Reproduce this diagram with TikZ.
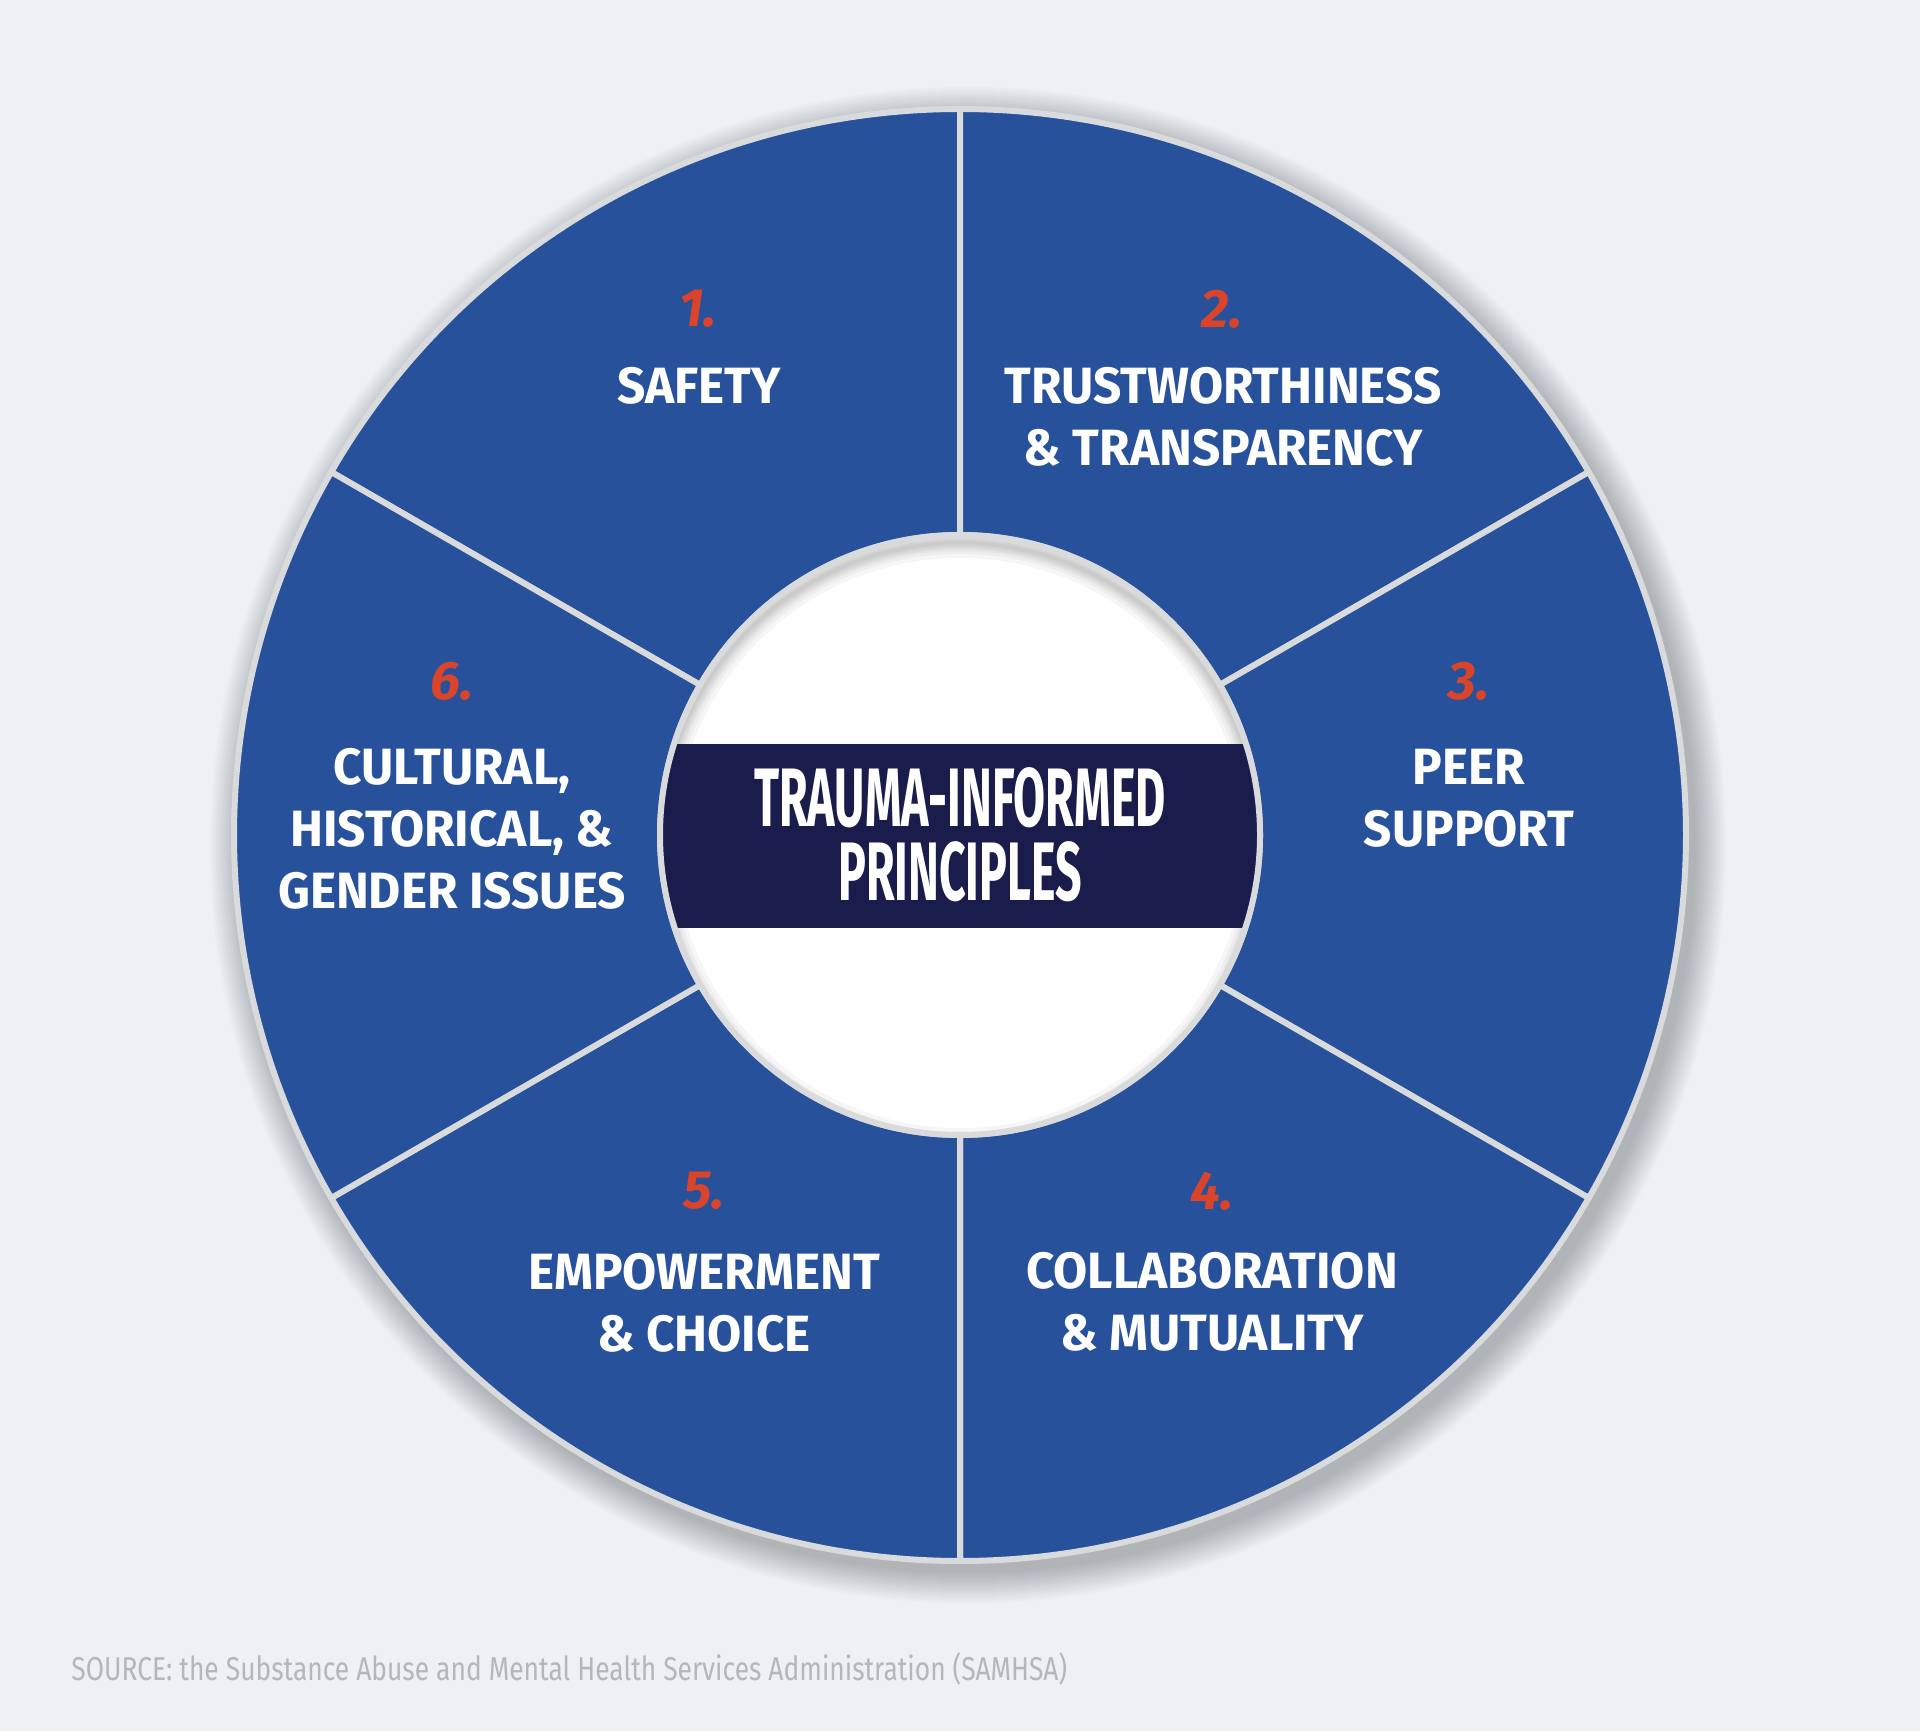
\documentclass[tikz,border=0pt]{standalone}
\usepackage{fontspec}
\setmainfont{Fira Sans}
\newfontfamily\condfont{Fira Sans}[FakeStretch=0.56]
\newfontfamily\labfont{Fira Sans}[FakeStretch=0.97]
\newfontfamily\srcfont{Fira Sans}[FakeStretch=0.80]
\definecolor{bgc}{HTML}{EDF1F5}
\definecolor{segblue}{HTML}{28519C}
\definecolor{bordergray}{HTML}{D9DADC}
\definecolor{navy}{HTML}{1A1C4B}
\definecolor{numred}{HTML}{D9442A}
\definecolor{srcgray}{HTML}{B3B6BB}
\begin{document}
\begin{tikzpicture}[x=0.5pt,y=0.5pt,
  wtext/.style={font=\labfont\bfseries\fontsize{25.5}{31}\selectfont,text=white,align=center,inner sep=0pt},
  numtext/.style={font=\bfseries\itshape\fontsize{27}{31}\selectfont,text=numred,inner sep=0pt},
  segment/.style={fill=segblue,draw=bordergray,line width=3pt,line join=round}]
\useasboundingbox (0,0) rectangle (1920,1731);
\fill[bgc] (0,0) rectangle (1920,1731);
% soft shadow of the wheel
\foreach \k in {1,...,16}{
  \fill[black,opacity=0.014] (968,886) circle ({726+2*\k});
}
\begin{scope}[shift={(960,896)}]
  \foreach \a/\b in {90/150,30/90,-30/30,-90/-30,-150/-90,150/210}{
    \path[segment] (\a:726) arc[start angle=\a,end angle=\b,radius=726]
      -- (\b:300) arc[start angle=\b,end angle=\a,radius=300] -- cycle;
  }
  % inner disc
  \fill[white] (0,0) circle (300);
  \begin{scope}
    \clip (0,0) circle (300);
    \foreach \w in {4,8,12,16,22,30}{
      \draw[black,opacity=0.035,line width=\w*0.5pt] (0,-8) circle (300);
    }
    \fill[navy] (-320,-93) rectangle (320,91);
  \end{scope}
  \draw[bordergray,line width=3pt] (0,0) circle (300);
\end{scope}
% center title
\node[font=\condfont\bfseries\fontsize{41.5}{37}\selectfont,text=white,align=center,inner sep=0pt] (title) at (960,896) {TRAUMA-INFORMED\\PRINCIPLES};
% numbers
\node[numtext] (n1) at (698,1422) {1.};
\node[numtext] (n2) at (1222,1422) {2.};
\node[numtext] (n3) at (1469,1050) {3.};
\node[numtext] (n4) at (1212,540) {4.};
\node[numtext] (n5) at (704,540) {5.};
\node[numtext] (n6) at (452,1050) {6.};
% labels
\node[wtext] (l1) at (699,1345) {SAFETY};
\node[wtext] (l2) at (1223,1314) {TRUSTWORTHINESS\\\& TRANSPARENCY};
\node[wtext] (l3) at (1469,933) {PEER\\SUPPORT};
\node[wtext] (l4) at (1212,429) {COLLABORATION\\\& MUTUALITY};
\node[wtext] (l5) at (704,428) {EMPOWERMENT\\\& CHOICE};
\node[wtext] (l6) at (452,902) {CULTURAL,\\HISTORICAL, \&\\GENDER ISSUES};
% source
\node[font=\srcfont\fontsize{16.5}{19}\selectfont,text=srcgray,anchor=west,inner sep=0pt] (src) at (71,62) {SOURCE: the Substance Abuse and Mental Health Services Administration (SAMHSA)};
\end{tikzpicture}
\end{document}
